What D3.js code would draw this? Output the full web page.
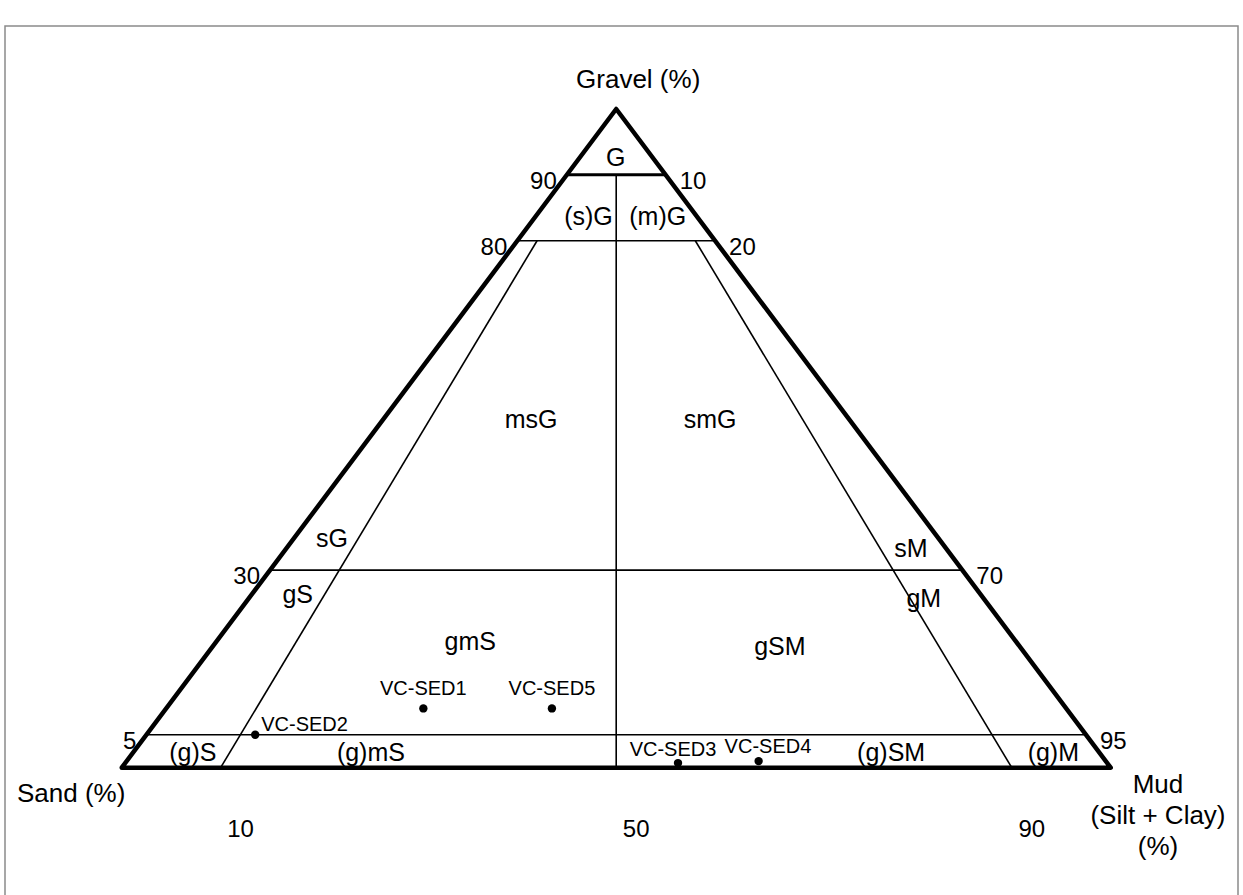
<!DOCTYPE html>
<html>
<head>
<meta charset="utf-8">
<script src="https://cdn.jsdelivr.net/npm/d3@7"></script>
<style>
  html, body { margin: 0; padding: 0; background: #fff; }
  svg text { font-family: "Liberation Sans", Arial, sans-serif; fill: #000; }
</style>
</head>
<body>
<div id="chart"></div>
<script>
// Folk sediment classification: gravel / sand / mud (%)
const sampleNames = ["VC-SED1", "VC-SED2", "VC-SED3", "VC-SED4", "VC-SED5"];
const sampleGravel = [9, 5, 0.7, 1, 9];
const sampleSand = [65, 84, 43.4, 35.1, 52];
const sampleMud = [26, 11, 55.9, 63.9, 39];

// class boundaries (gravel %) and sand:mud ratio lines (mud share of sand+mud)
const gravelLevels = [90, 80, 30, 5];
const ratioLines = [
  { ratio: 0.1, top: 80 },
  { ratio: 0.5, top: 90 },
  { ratio: 0.9, top: 80 }
];

// class names, anchored at a composition (gravel %, mud %)
const classNames = ["G", "(s)G", "(m)G", "msG", "smG", "sG", "gS", "sM", "gM", "gmS", "gSM", "(g)S", "(g)mS", "(g)SM", "(g)M"];
const classGravel = [91.3, 82.4, 82.4, 51.6, 51.6, 33.5, 25.0, 32.0, 24.4, 17.9, 17.1, 1.0, 1.0, 1.0, 1.0];
const classMud = [4.3, 6.0, 13.0, 15.6, 33.7, 4.5, 5.3, 63.8, 68.9, 26.3, 58.0, 6.7, 24.7, 77.3, 93.7];

// edge tick labels
const leftTicks = ["90", "80", "30", "5"];
const rightTicks = ["10", "20", "70", "95"];
const bottomTickMud = [10, 50, 90];
const bottomTicks = ["10", "50", "90"];

const width = 1243, height = 895;

const svg = d3.select("#chart").append("svg")
  .attr("width", width)
  .attr("height", height);

// frame
svg.append("rect")
  .attr("x", 5).attr("y", 26)
  .attr("width", 1233).attr("height", 900)
  .attr("fill", "none")
  .attr("stroke", "#8a8a8a")
  .attr("stroke-width", 1.5);

// base scale: position along Sand -> Mud edge, vertical scale for gravel
const xBase = d3.scaleLinear().domain([0, 100]).range([121.7, 1110.7]);
const yGravel = d3.scaleLinear().domain([0, 100]).range([767.7, 109]);

// ternary projection (gravel, mud) -> [x, y]
const proj = (g, m) => [xBase(m + g / 2), yGravel(g)];

const line = d3.line();

// inner class lines
gravelLevels.forEach(g => {
  svg.append("path")
    .attr("d", line([proj(g, 0), proj(g, 100 - g)]))
    .attr("fill", "none")
    .attr("stroke", "#000")
    .attr("stroke-width", g === 90 ? 3 : 1.6);
});

ratioLines.forEach(d => {
  const rest = 100 - d.top;
  svg.append("path")
    .attr("d", line([proj(d.top, rest * d.ratio), proj(0, 100 * d.ratio)]))
    .attr("fill", "none")
    .attr("stroke", "#000")
    .attr("stroke-width", 1.6);
});

// outline
svg.append("path")
  .attr("d", line([proj(0, 0), proj(100, 0), proj(0, 100)]) + "Z")
  .attr("fill", "none")
  .attr("stroke", "#000")
  .attr("stroke-width", 4.5)
  .attr("stroke-linejoin", "round");

// class labels
svg.selectAll(".cls")
  .data(classNames)
  .join("text")
  .attr("class", "cls")
  .attr("x", (d, i) => proj(classGravel[i], classMud[i])[0])
  .attr("y", (d, i) => proj(classGravel[i], classMud[i])[1])
  .attr("text-anchor", "middle")
  .attr("font-size", "25px")
  .text(d => d);

// left edge ticks (gravel)
svg.selectAll(".ltick")
  .data(leftTicks)
  .join("text")
  .attr("class", "ltick")
  .attr("x", (d, i) => proj(gravelLevels[i], 0)[0] - 10)
  .attr("y", (d, i) => proj(gravelLevels[i], 0)[1] + 14)
  .attr("text-anchor", "end")
  .attr("font-size", "24px")
  .text(d => d);

// right edge ticks
svg.selectAll(".rtick")
  .data(rightTicks)
  .join("text")
  .attr("class", "rtick")
  .attr("x", (d, i) => proj(gravelLevels[i], 100 - gravelLevels[i])[0] + 14)
  .attr("y", (d, i) => proj(gravelLevels[i], 100 - gravelLevels[i])[1] + 14)
  .attr("text-anchor", "start")
  .attr("font-size", "24px")
  .text(d => d);

// bottom ticks
svg.selectAll(".btick")
  .data(bottomTicks)
  .join("text")
  .attr("class", "btick")
  .attr("x", (d, i) => xBase(bottomTickMud[i]) + 20)
  .attr("y", 837)
  .attr("text-anchor", "middle")
  .attr("font-size", "24px")
  .text(d => d);

// axis names
svg.append("text")
  .attr("x", proj(100, 0)[0] + 22).attr("y", 88)
  .attr("text-anchor", "middle")
  .attr("font-size", "26px")
  .text("Gravel (%)");

svg.append("text")
  .attr("x", 17).attr("y", 802)
  .attr("font-size", "26px")
  .text("Sand (%)");

const mudLabel = svg.append("text")
  .attr("x", 1158).attr("y", 793)
  .attr("text-anchor", "middle")
  .attr("font-size", "26px");
["Mud", "(Silt + Clay)", "(%)"].forEach((t, i) => {
  mudLabel.append("tspan")
    .attr("x", 1158)
    .attr("dy", i === 0 ? 0 : 31)
    .text(t);
});

// samples
const labelPlace = {
  "VC-SED1": { anchor: "middle", dx: 0, dy: -13 },
  "VC-SED2": { anchor: "start", dx: 6, dy: -4 },
  "VC-SED3": { anchor: "middle", dx: -5, dy: -7 },
  "VC-SED4": { anchor: "start", dx: -34, dy: -8 },
  "VC-SED5": { anchor: "middle", dx: 0, dy: -13 }
};

sampleNames.forEach((name, i) => {
  const [x, y] = proj(sampleGravel[i], sampleMud[i]);
  svg.append("circle")
    .attr("cx", x).attr("cy", y)
    .attr("r", 4.2)
    .attr("fill", "#000");
  const p = labelPlace[name];
  svg.append("text")
    .attr("x", x + p.dx).attr("y", y + p.dy)
    .attr("text-anchor", p.anchor)
    .attr("font-size", "20px")
    .text(name);
});
</script>
</body>
</html>
